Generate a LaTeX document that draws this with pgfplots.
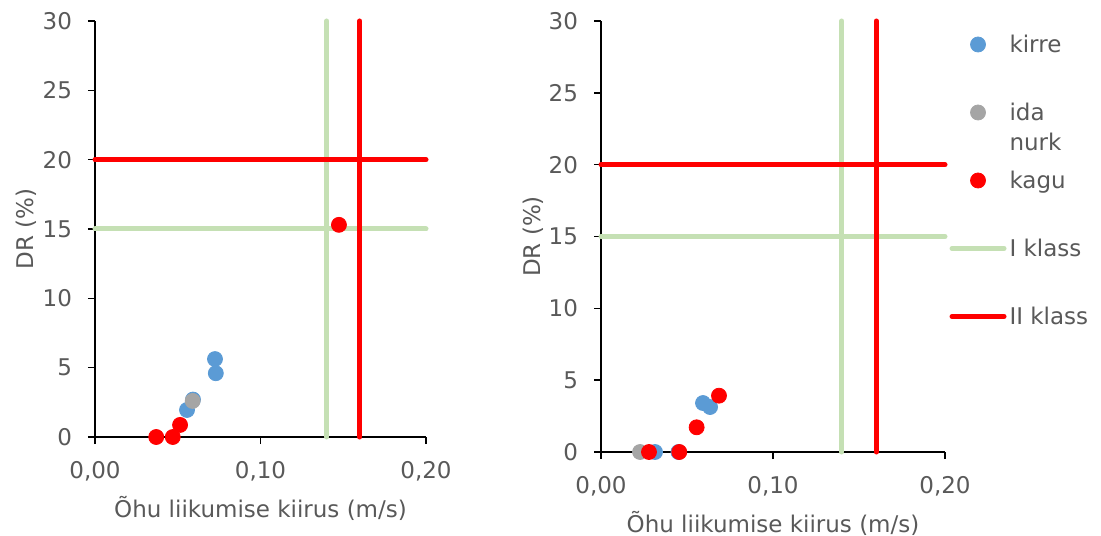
\documentclass[border=0pt]{standalone}
\usepackage{fontspec}
\setmainfont{DejaVu Sans}
\usepackage{pgfplots}
\pgfplotsset{compat=1.18}
\definecolor{txt}{HTML}{595959}
\definecolor{cblue}{HTML}{5B9BD5}
\definecolor{cgray}{HTML}{A5A5A5}
\definecolor{cred}{HTML}{FF0000}
\definecolor{cgreen}{HTML}{C5E0B4}
\pgfplotsset{
  myax/.style={
    scale only axis, anchor=south west,
    axis lines=left, axis line style={-, line width=0.8pt, black},
    xmin=0, xmax=0.2, ymin=0, ymax=30,
    xtick={0,0.1,0.2}, xticklabels={{0,00},{0,10},{0,20}},
    ytick={0,5,10,15,20,25,30},
    tick align=outside, major tick length=3.5pt,
    tick style={black, line width=0.8pt},
    /pgf/number format/assume math mode=true,
    ticklabel style={text=txt},
    yticklabel style={xshift=-4pt},
    xticklabel style={yshift=-4.5pt},
    clip=false,
    xlabel={Õhu liikumise kiirus (m/s)},
    ylabel={DR (\%)},
    every axis x label/.style={at={([yshift=-40pt]axis description cs:0.5,0)}, anchor=base, text=txt},
    every axis y label/.style={at={([xshift=-30.5pt]axis description cs:0,0.5)}, rotate=90, anchor=base, text=txt},
    legend image code/.code={\draw[mark repeat=2,mark phase=2,#1] plot coordinates {(0pt,0pt)(13pt,0pt)(26pt,0pt)};},
  },
  gline/.style={color=cgreen, line width=2.5pt, line cap=round, mark=none},
  rline/.style={color=cred, line width=2.5pt, line cap=round, mark=none},
  pblue/.style={only marks, mark=*, mark size=3.75pt, color=cblue, mark options={draw=cblue, fill=cblue}},
  pgray/.style={only marks, mark=*, mark size=3.75pt, color=cgray, mark options={draw=cgray, fill=cgray}},
  pred/.style={only marks, mark=*, mark size=3.75pt, color=cred, mark options={draw=cred, fill=cred}},
}
\begin{document}
\fontsize{11.5}{15}\selectfont
\begin{tikzpicture}
\useasboundingbox (0,0) rectangle (550.5pt,267.5pt);
\begin{axis}[myax, at={(47.5pt,49pt)}, width=165.5pt, height=208pt]
\addplot[gline, forget plot] coordinates {(0,15) (0.2,15)};
\addplot[gline, forget plot] coordinates {(0.14,0) (0.14,30)};
\addplot[rline, forget plot] coordinates {(0,20) (0.2,20)};
\addplot[rline, forget plot] coordinates {(0.16,0) (0.16,30)};
\addplot[pblue] coordinates {(0.0556,1.95) (0.0592,2.7) (0.0725,5.62) (0.073,4.6)};
\addplot[pgray] coordinates {(0.059,2.6)};
\addplot[pred] coordinates {(0.037,0) (0.047,0) (0.0514,0.87) (0.1474,15.3)};
\end{axis}
\begin{axis}[myax, at={(300.5pt,41.5pt)}, width=172pt, height=215.5pt,
  legend cell align=left,
  legend style={draw=none, fill=none, at={(axis description cs:1.012,0.965)}, anchor=north west,
    inner sep=0pt, row sep=26pt, column sep=1.5pt,
    nodes={inner sep=0pt, text=txt, text height=8pt, text depth=0pt}}]
\addplot[gline, forget plot] coordinates {(0,15) (0.2,15)};
\addplot[gline, forget plot] coordinates {(0.14,0) (0.14,30)};
\addplot[rline, forget plot] coordinates {(0,20) (0.2,20)};
\addplot[rline, forget plot] coordinates {(0.16,0) (0.16,30)};
\addplot[pblue] coordinates {(0.0314,0) (0.0450,0) (0.0593,3.41) (0.0634,3.13)};
\addlegendentry{kirre}
\addplot[pgray] coordinates {(0.0227,0)};
\addlegendentry{\begin{tabular}[t]{@{}l@{}}ida\\nurk\end{tabular}}
\addplot[pred] coordinates {(0.0279,0) (0.0455,0) (0.0556,1.72) (0.0686,3.92)};
\addlegendentry{kagu}
\addlegendimage{gline}
\addlegendentry{I klass}
\addlegendimage{rline}
\addlegendentry{II klass}
\end{axis}
\end{tikzpicture}
\end{document}
